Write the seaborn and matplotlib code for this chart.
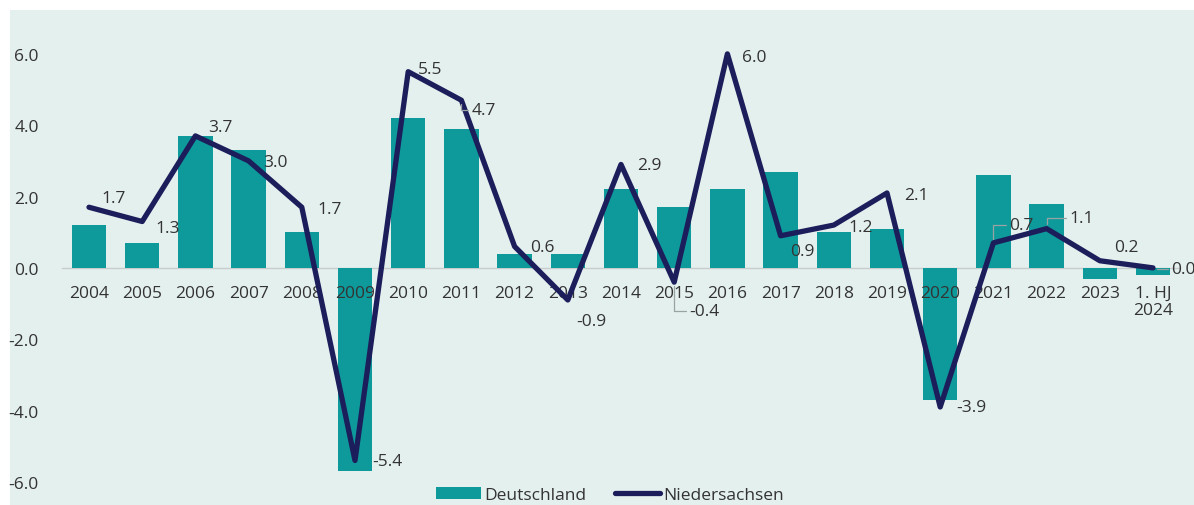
import numpy as np
import pandas as pd
import matplotlib
matplotlib.use("Agg")
import matplotlib.pyplot as plt
from matplotlib.patches import Rectangle
import seaborn as sns

# ---- data ----
categories = ["2004", "2005", "2006", "2007", "2008", "2009", "2010", "2011", "2012",
              "2013", "2014", "2015", "2016", "2017", "2018", "2019", "2020", "2021",
              "2022", "2023", "1. HJ\n2024"]
deutschland = [1.2, 0.7, 3.7, 3.3, 1.0, -5.7, 4.2, 3.9, 0.4, 0.4, 2.2, 1.7, 2.2, 2.7,
               1.0, 1.1, -3.7, 2.6, 1.8, -0.3, -0.2]
niedersachsen = [1.7, 1.3, 3.7, 3.0, 1.7, -5.4, 5.5, 4.7, 0.6, -0.9, 2.9, -0.4, 6.0, 0.9,
                 1.2, 2.1, -3.9, 0.7, 1.1, 0.2, 0.0]
y_ticks = [-6.0, -4.0, -2.0, 0.0, 2.0, 4.0, 6.0]

# label offsets in pixels (style only)
label_offsets = [(12, 9), (13, -6), (13, 9), (15, -1), (16, -2), (17, -1), (10, 3),
                 (10, -10), (16, -1), (8, -21), (16, -1), (15, -29), (15, -3), (10, -15),
                 (15, -2), (17, -2), (16, 0), (16, 18), (23, 11), (14, 14), (18, -1)]
leader = [False, False, False, False, False, False, False, True, False, False, False,
          True, False, False, False, False, False, True, True, False, True]

BAR = "#0e9a9b"
LINE = "#1c1d5b"
BG = "#e4f0ee"
TXT = "#333333"
FS = 12.5

sns.set_theme(style="white")
plt.rcParams["font.family"] = ["Open Sans", "DejaVu Sans"]

W, H = 1194, 506
fig = plt.figure(figsize=(W / 100, H / 100), dpi=100, facecolor="white")
fig.patches.append(Rectangle((10 / W, 0), 1 - 10 / W, (H - 11) / H,
                             transform=fig.transFigure, facecolor=BG,
                             edgecolor="none", zorder=-10))

ax = fig.add_axes([62.4 / W, 1 / H, (1179.6 - 62.4) / W, (505 - 11) / H])
ax.set_facecolor("none")
ax.set_axisbelow(False)

n = len(categories)
df = pd.DataFrame({"cat": categories, "pos": np.arange(n),
                   "Deutschland": deutschland, "Niedersachsen": niedersachsen})

sns.barplot(data=df, x="pos", y="Deutschland", color=BAR, width=0.65,
            saturation=1, ax=ax, label="Deutschland", native_scale=True, zorder=2,
            linewidth=0)
sns.lineplot(data=df, x="pos", y="Niedersachsen", color=LINE, linewidth=3.8,
             ax=ax, label="Niedersachsen", zorder=3)

ax.set_xlim(-0.5, n - 0.5)
ax.set_ylim(-6.62, 7.23)
ax.set_xlabel("")
ax.set_ylabel("")

for s in ["top", "right", "left"]:
    ax.spines[s].set_visible(False)
ax.spines["bottom"].set_position(("data", 0))
ax.spines["bottom"].set_color("#c8cccc")
ax.spines["bottom"].set_linewidth(1.0)
ax.spines["bottom"].set_zorder(1)

ax.set_xticks(np.arange(n))
ax.set_xticklabels(categories, fontsize=FS, color=TXT, linespacing=1.15)
ax.set_xticks(np.arange(n + 1) - 0.5, minor=True)
ax.tick_params(axis="x", which="major", length=0, pad=12)
ax.tick_params(axis="x", which="minor", length=4, color="#c8cccc", width=1, direction="out")

ax.set_yticks(y_ticks)
ax.set_yticklabels([f"{v:.1f}" for v in y_ticks], fontsize=FS, color=TXT)
ax.tick_params(axis="y", length=0, pad=17)

for i, (v, (dx, dy), ld) in enumerate(zip(niedersachsen, label_offsets, leader)):
    txt = f"{v:.1f}"
    kw = dict(xy=(i, v), xytext=(dx, dy), textcoords="offset pixels",
              ha="left", va="center", fontsize=FS, color=TXT, zorder=5)
    if ld:
        kw["arrowprops"] = dict(arrowstyle="-", color="#9aa3a3", lw=0.9,
                                shrinkA=0, shrinkB=3,
                                connectionstyle="angle,angleA=0,angleB=90,rad=0")
    ax.annotate(txt, **kw)

handles, labels = ax.get_legend_handles_labels()
order = [labels.index("Deutschland"), labels.index("Niedersachsen")]
leg = ax.legend([handles[i] for i in order], [labels[i] for i in order],
                loc="lower center", bbox_to_anchor=(610 / W, -5 / H),
                bbox_transform=fig.transFigure, ncol=2, frameon=False,
                fontsize=FS, handlelength=2.6, handletextpad=0.2, columnspacing=1.6,
                borderaxespad=0.0)
for t in leg.get_texts():
    t.set_color(TXT)

fig.savefig("out.png", dpi=100, facecolor="white")
